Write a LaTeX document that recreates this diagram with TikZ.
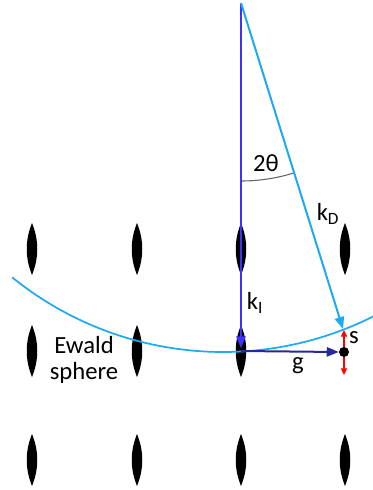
\documentclass[tikz,border=0pt]{standalone}
\usepackage{fontspec}
\setmainfont{Carlito}
\usepackage{tikz}
\usetikzlibrary{arrows.meta, positioning}
\definecolor{beamblue}{RGB}{60,50,250}
\definecolor{ewaldcyan}{RGB}{30,170,240}
\definecolor{gnavy}{RGB}{40,40,150}
\definecolor{arcgrey}{RGB}{100,100,100}
\tikzstyle{lbl} = [inner sep=0pt, font=\fontsize{18.5}{19}\selectfont, align=center]
\tikzstyle{beam} = [line width=1.5pt, -{Triangle[length=9pt,width=7pt]}]
\tikzstyle{sarrow} = [red, line width=1pt, {Triangle[length=5pt,width=4.5pt]}-{Triangle[length=5pt,width=4.5pt]}]
\tikzset{spindle/.pic={\fill[black] (0,-26) .. controls (7,-9) and (7,9) .. (0,26) .. controls (-7,9) and (-7,-9) .. cycle;}}

\begin{document}
\begin{tikzpicture}[x=0.75pt, y=-0.75pt]
  \useasboundingbox (0,0) rectangle (372,490);
  % reciprocal lattice
  \pic at (32,249) {spindle};  \pic at (137,249) {spindle};  \pic at (241,249) {spindle};  \pic at (345,249) {spindle};
  \pic at (32,351) {spindle};  \pic at (137,351) {spindle};  \pic at (241,351) {spindle};
  \pic at (32,460) {spindle};  \pic at (137,460) {spindle};  \pic at (241,460) {spindle};  \pic at (345,460) {spindle};

  \coordinate (src) at (241,3);
  \coordinate (p0) at (241,351);
  \coordinate (kd) at (343,329);
  \coordinate (ctr) at (223,17);
  \coordinate (sa) at (344,330);
  \coordinate (sb) at (344,375);

  % Ewald sphere
  \draw[ewaldcyan, line width=1.3pt] (ctr) ++(129:335) arc[start angle=129, end angle=63, radius=335];

  \draw[arcgrey, line width=0.8pt] (src) ++(90:178) arc[start angle=90, end angle=72.7, radius=178];

  \draw[beam, beamblue, shorten >=2pt] (src) -- (p0);
  \draw[beam, ewaldcyan] (src) -- (kd);

  \draw[sarrow] (sa) -- (sb);
  \node[circle, fill=black, inner sep=0pt, minimum size=7.5pt] (hkl) at (344,352) {};
  \draw[beam, gnavy] (p0) -- (hkl.west);

  \node[lbl] (tt) at (266,163) {2θ};
  \node[lbl] (kdl) at (328,214) {k\textsubscript{D}};
  \node[lbl] (kil) at (255,303) {k\textsubscript{I}};
  \node[lbl] (gl) at (298,366) {g};
  \node[lbl] (sl) at (354,338) {s};
  \node[lbl] (ew) at (84,360) {Ewald\\sphere};
\end{tikzpicture}
\end{document}
